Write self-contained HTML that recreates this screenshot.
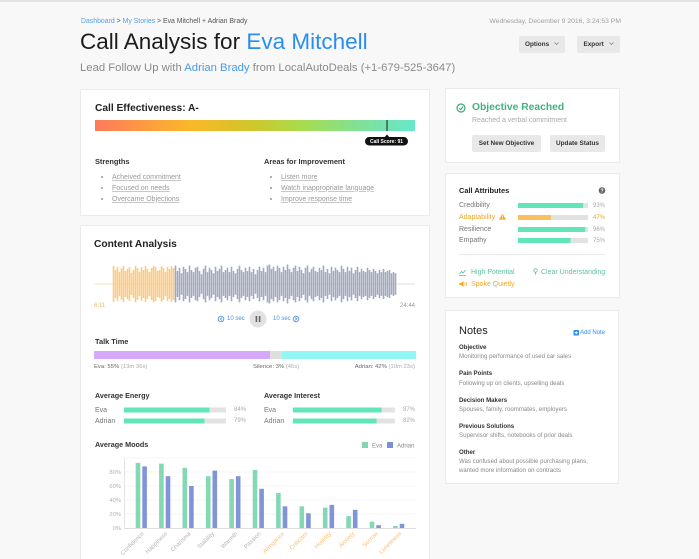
<!DOCTYPE html>
<html><head><meta charset="utf-8">
<style>
*{margin:0;padding:0;box-sizing:border-box}
html,body{width:699px;height:559px;overflow:hidden}
body{background:#f8f8f8;font-family:"Liberation Sans",sans-serif;position:relative;color:#333}
.t{position:absolute;line-height:1;white-space:nowrap}
.card{position:absolute;background:#fff;border:1px solid #ebebeb}
.b{font-weight:bold}
.btn{position:absolute;background:#e8e8e8;border-radius:2px;font-weight:bold;color:#333;text-align:center;white-space:nowrap}
.u{text-decoration:underline;text-decoration-color:#c8c8c8}
.dot{position:absolute;width:2px;height:2px;border-radius:1px;background:#999}
</style></head><body>
<div style="position:absolute;left:0;top:0;width:699px;height:2px;background:#e2e2e2"></div>

<!-- Header -->
<div class="t" style="left:81px;top:18.5px;font-size:6.9px;color:#555"><span style="color:#5aa0e6">Dashboard</span> &gt; <span style="color:#5aa0e6">My Stories</span> &gt; Eva Mitchell + Adrian Brady</div>
<div class="t" style="right:78px;top:18.6px;font-size:6.8px;color:#a0a0a0">Wednesday, December 9 2016, 3:24:53 PM</div>
<div class="t" style="left:80px;top:31px;font-size:22.5px;color:#1c1c1c">Call Analysis for <span style="color:#2a8ef0">Eva Mitchell</span></div>
<div class="t" style="left:80px;top:62.5px;font-size:11.3px;color:#8a8a8a">Lead Follow Up with <span style="color:#4a9ae6">Adrian Brady</span> from LocalAutoDeals (+1-679-525-3647)</div>
<div class="btn" style="left:519px;top:36px;width:46px;height:17px;font-size:6.4px;line-height:17px">Options <svg width="5" height="3" viewBox="0 0 5 3" style="margin-left:3px;vertical-align:1px"><path d="M0.5 0.5L2.5 2.5L4.5 0.5" fill="none" stroke="#888" stroke-width="0.8"/></svg></div>
<div class="btn" style="left:577px;top:36px;width:43px;height:17px;font-size:6.4px;line-height:17px">Export <svg width="5" height="3" viewBox="0 0 5 3" style="margin-left:3px;vertical-align:1px"><path d="M0.5 0.5L2.5 2.5L4.5 0.5" fill="none" stroke="#888" stroke-width="0.8"/></svg></div>

<!-- Cards -->
<div class="card" style="left:80px;top:89px;width:350px;height:127px"></div>
<div class="card" style="left:80px;top:225px;width:350px;height:345px"></div>
<div class="card" style="left:445px;top:88px;width:175px;height:75px"></div>
<div class="card" style="left:445px;top:173px;width:175px;height:125px"></div>
<div class="card" style="left:445px;top:310px;width:174px;height:174px"></div>

<!-- Card 1 text -->
<div class="t b" style="left:95px;top:103.9px;font-size:10.2px;color:#222">Call Effectiveness: A-</div>
<div class="t b" style="left:95px;top:158.3px;font-size:7.4px;color:#333">Strengths</div>
<div class="t b" style="left:264px;top:158.3px;font-size:7.4px;color:#333">Areas for Improvement</div>
<div class="dot" style="left:101px;top:176px"></div>
<div class="dot" style="left:101px;top:187px"></div>
<div class="dot" style="left:101px;top:198px"></div>
<div class="dot" style="left:270px;top:176px"></div>
<div class="dot" style="left:270px;top:187px"></div>
<div class="dot" style="left:270px;top:198px"></div>
<div class="t u" style="left:112px;top:173.5px;font-size:7px;color:#999">Acheived commitment</div>
<div class="t u" style="left:112px;top:184.5px;font-size:7px;color:#999">Focused on needs</div>
<div class="t u" style="left:112px;top:195.5px;font-size:7px;color:#999">Overcame Objections</div>
<div class="t u" style="left:281px;top:173.5px;font-size:7px;color:#999">Listen more</div>
<div class="t u" style="left:281px;top:184.5px;font-size:7px;color:#999">Watch inappropriate language</div>
<div class="t u" style="left:281px;top:195.5px;font-size:7px;color:#999">Improve response time</div>

<!-- Card 2 text -->
<div class="t b" style="left:94px;top:239.9px;font-size:10.2px;color:#222">Content Analysis</div>
<div class="t" style="left:94px;top:303px;font-size:6px;color:#f5b660">6:11</div>
<div class="t" style="right:284px;top:303px;font-size:6px;color:#999">24:44</div>
<div class="t" style="left:227px;top:316px;font-size:6px;color:#4a90e2">10 sec</div>
<div class="t" style="left:273px;top:316px;font-size:6px;color:#4a90e2">10 sec</div>
<div class="t b" style="left:95px;top:338.3px;font-size:7.4px;color:#333">Talk Time</div>
<div class="t" style="left:94px;top:365px;font-size:5.9px;color:#666">Eva: 55% <span style="color:#aaa">(13m 36s)</span></div>
<div class="t" style="left:253px;top:365px;font-size:5.9px;color:#666">Silence: 3% <span style="color:#aaa">(45s)</span></div>
<div class="t" style="right:284px;top:365px;font-size:5.9px;color:#666">Adrian: 42% <span style="color:#aaa">(10m 23s)</span></div>

<div class="t b" style="left:95px;top:392.4px;font-size:7.2px;color:#333">Average Energy</div>
<div class="t b" style="left:264px;top:392.4px;font-size:7.2px;color:#333">Average Interest</div>
<div class="t" style="left:95px;top:406.5px;font-size:7px;color:#777">Eva</div>
<div class="t" style="left:95px;top:417.5px;font-size:7px;color:#777">Adrian</div>
<div class="t" style="left:264px;top:406.5px;font-size:7px;color:#777">Eva</div>
<div class="t" style="left:264px;top:417.5px;font-size:7px;color:#777">Adrian</div>
<div class="t" style="right:453px;top:407px;font-size:6px;color:#aaa">84%</div>
<div class="t" style="right:453px;top:418px;font-size:6px;color:#aaa">79%</div>
<div class="t" style="right:284px;top:407px;font-size:6px;color:#aaa">87%</div>
<div class="t" style="right:284px;top:418px;font-size:6px;color:#aaa">82%</div>
<div class="t b" style="left:95px;top:441.4px;font-size:7.2px;color:#333">Average Moods</div>

<!-- Right card 1 -->
<div class="t b" style="left:472px;top:102.8px;font-size:10.3px;color:#45b27e">Objective Reached</div>
<div class="t" style="left:472px;top:116.5px;font-size:7px;color:#aaa">Reached a verbal commitment</div>
<div class="btn" style="left:472px;top:135px;width:69px;height:17px;font-size:6.4px;line-height:17px">Set New Objective</div>
<div class="btn" style="left:550px;top:135px;width:55px;height:17px;font-size:6.4px;line-height:17px">Update Status</div>

<!-- Right card 2 -->
<div class="t b" style="left:459px;top:187.3px;font-size:7.4px;color:#222">Call Attributes</div>
<div class="t" style="left:459px;top:201.5px;font-size:7px;color:#777">Credibility</div>
<div class="t" style="left:459px;top:213.5px;font-size:7px;color:#f5a623">Adaptability</div>
<div class="t" style="left:459px;top:225.5px;font-size:7px;color:#777">Resilience</div>
<div class="t" style="left:459px;top:236.5px;font-size:7px;color:#777">Empathy</div>
<div class="t" style="right:94px;top:202.5px;font-size:6px;color:#aaa">93%</div>
<div class="t" style="right:94px;top:214.5px;font-size:6px;color:#f5a623">47%</div>
<div class="t" style="right:94px;top:226.5px;font-size:6px;color:#aaa">96%</div>
<div class="t" style="right:94px;top:237.5px;font-size:6px;color:#aaa">75%</div>
<div class="t" style="left:471px;top:268.5px;font-size:7px;color:#5cc39f">High Potential</div>
<div class="t" style="left:541px;top:268.5px;font-size:7px;color:#5cc39f">Clear Understanding</div>
<div class="t" style="left:471px;top:280.5px;font-size:7px;color:#f5a623">Spoke Quietly</div>

<!-- Notes -->
<div class="t" style="left:459px;top:325.5px;font-size:11px;color:#222">Notes</div>
<div class="t" style="left:580px;top:330px;font-size:6px;color:#2b8fe6">Add Note</div>
<div class="t b" style="left:459px;top:345px;font-size:6.1px;color:#333">Objective</div>
<div class="t" style="left:459px;top:354px;font-size:6.1px;color:#888">Monitoring performance of used car sales</div>
<div class="t b" style="left:459px;top:371px;font-size:6.1px;color:#333">Pain Points</div>
<div class="t" style="left:459px;top:381px;font-size:6.1px;color:#888">Following up on clients, upselling deals</div>
<div class="t b" style="left:459px;top:398px;font-size:6.1px;color:#333">Decision Makers</div>
<div class="t" style="left:459px;top:407px;font-size:6.1px;color:#888">Spouses, family, roommates, employers</div>
<div class="t b" style="left:459px;top:424px;font-size:6.1px;color:#333">Previous Solutions</div>
<div class="t" style="left:459px;top:433px;font-size:6.1px;color:#888">Supervisor shifts, notebooks of prior deals</div>
<div class="t b" style="left:459px;top:450px;font-size:6.1px;color:#333">Other</div>
<div class="t" style="left:459px;top:459px;font-size:6.1px;color:#888">Was confused about possible purchasing plans,</div>
<div class="t" style="left:459px;top:468px;font-size:6.1px;color:#888">wanted more information on contracts</div>

<!-- Graphics -->
<svg width="699" height="559" viewBox="0 0 699 559" style="position:absolute;left:0;top:0" font-family="Liberation Sans, sans-serif">
<defs>
<linearGradient id="g" x1="0" x2="1" y1="0" y2="0">
<stop offset="0" stop-color="#ff7a5c"/>
<stop offset="0.17" stop-color="#fd9e3e"/>
<stop offset="0.3" stop-color="#fbb828"/>
<stop offset="0.48" stop-color="#d3c42b"/>
<stop offset="0.64" stop-color="#a8dc4a"/>
<stop offset="0.8" stop-color="#86e08c"/>
<stop offset="0.91" stop-color="#72e3b2"/>
<stop offset="1" stop-color="#67e8c9"/>
</linearGradient>
</defs>
<!-- effectiveness bar -->
<rect x="95" y="120" width="320" height="11" fill="url(#g)"/>
<rect x="386.3" y="120" width="1.5" height="11" fill="#45574c"/>
<path d="M384.5 137.2L387 134.5L389.5 137.2Z" fill="#111"/>
<rect x="365" y="137" width="43" height="8.5" rx="4.25" fill="#111"/>
<text x="386.5" y="143" font-size="5" font-weight="bold" fill="#fff" text-anchor="middle">Call Score: 91</text>

<!-- waveform -->
<line x1="94" y1="284" x2="415" y2="284" stroke="#dcdfe7" stroke-width="1"/>
<line x1="94" y1="284" x2="174" y2="284" stroke="#fde2b6" stroke-width="1"/>
<path stroke="#fcca80" stroke-width="1.6" fill="none" d="M113.5 266v36M115.5 270v28M117.5 267v34M119.5 272v24M121.5 268v32M123.5 266v36M125.5 271v26M127.5 269v30M129.5 267v34M131.5 273v22M133.5 270v28M135.5 266v36M137.5 268v32M139.5 272v24M141.5 267v34M143.5 270v28M145.5 266v36M147.5 269v30M149.5 272v24M151.5 268v32M153.5 266v36M155.5 267v34M157.5 271v26M159.5 270v28M161.5 266v36M163.5 268v32M165.5 272v24M167.5 267v34M169.5 269v30M171.5 266v36M173.5 268v32"/>
<g transform="translate(0 284) scale(1 1.08) translate(0 -284)">
<path stroke="#a2a9bf" stroke-width="1.6" fill="none" d="M175.5 267v34M177.5 272v24M179.5 269v30M181.5 274v20M183.5 268v32M185.5 270v28M187.5 273v22M189.5 267v34M191.5 271v26M193.5 273v22M195.5 269v30M197.5 268v32M199.5 272v24M201.5 275v18M203.5 270v28M205.5 267v34M207.5 273v22M209.5 269v30M211.5 271v26M213.5 274v20M215.5 268v32M217.5 272v24M219.5 270v28M221.5 267v34M223.5 273v22M225.5 271v26M227.5 269v30M229.5 273v22M231.5 268v32M233.5 272v24M235.5 274v20M237.5 270v28M239.5 267v34M241.5 271v26M243.5 273v22M245.5 269v30M247.5 272v24M249.5 268v32M251.5 273v22M253.5 270v28M255.5 275v18M257.5 271v26M259.5 268v32M261.5 272v24M263.5 269v30M265.5 273v22M267.5 267v34M269.5 266v36M271.5 270v28M273.5 268v32M275.5 272v24M277.5 267v34M279.5 269v30M281.5 273v22M283.5 268v32M285.5 271v26M287.5 266v36M289.5 270v28M291.5 273v22M293.5 269v30M295.5 267v34M297.5 272v24M299.5 268v32M301.5 271v26M303.5 274v20M305.5 269v30M307.5 267v34M309.5 273v22M311.5 270v28M313.5 268v32M315.5 272v24M317.5 273v22M319.5 269v30M321.5 271v26M323.5 267v34M325.5 273v22M327.5 270v28M329.5 274v20M331.5 268v32M333.5 272v24M335.5 269v30M337.5 271v26M339.5 273v22M341.5 267v34M343.5 270v28M345.5 273v22M347.5 268v32M349.5 272v24M351.5 269v30M353.5 274v20M355.5 271v26M357.5 268v32M359.5 273v22M361.5 270v28M363.5 272v24M365.5 273v22M367.5 269v30M369.5 271v26M371.5 273v22M373.5 270v28M375.5 272v24M377.5 274v20M379.5 271v26M381.5 273v22M383.5 270v28M385.5 273v22M387.5 272v24M389.5 271v26M391.5 274v20M393.5 273v22M395.5 274v20"/>
</g>

<!-- controls -->
<circle cx="221" cy="319" r="2.8" fill="none" stroke="#4a90e2" stroke-width="0.9"/>
<path d="M222 317.6L220.3 319L222 320.4" fill="none" stroke="#4a90e2" stroke-width="0.8"/>
<circle cx="258" cy="319" r="8.5" fill="#e2e2e2"/>
<rect x="255.6" y="316" width="1.6" height="6" fill="#666"/>
<rect x="258.8" y="316" width="1.6" height="6" fill="#666"/>
<circle cx="296" cy="319" r="2.8" fill="none" stroke="#4a90e2" stroke-width="0.9"/>
<path d="M295 317.6L296.7 319L295 320.4" fill="none" stroke="#4a90e2" stroke-width="0.8"/>

<!-- talk time -->
<rect x="94" y="351" width="176" height="8" fill="#d4a8fa"/>
<rect x="270" y="351" width="12" height="8" fill="#dedede"/>
<rect x="282" y="351" width="134" height="8" fill="#92f6f3"/>

<!-- energy / interest -->
<rect x="124" y="407.5" width="102" height="5" fill="#e3e3e3"/>
<rect x="124" y="407.5" width="85.5" height="5" fill="#62e6b9"/>
<rect x="124" y="418.5" width="102" height="5" fill="#e3e3e3"/>
<rect x="124" y="418.5" width="80.5" height="5" fill="#62e6b9"/>
<rect x="293" y="407.5" width="102" height="5" fill="#e3e3e3"/>
<rect x="293" y="407.5" width="88.7" height="5" fill="#62e6b9"/>
<rect x="293" y="418.5" width="102" height="5" fill="#e3e3e3"/>
<rect x="293" y="418.5" width="83.6" height="5" fill="#62e6b9"/>

<!-- legend -->
<rect x="362" y="442" width="6" height="6" fill="#7fd6b0"/>
<text x="372" y="447.3" font-size="6" fill="#888">Eva</text>
<rect x="387" y="442" width="6" height="6" fill="#7b8fd6"/>
<text x="397" y="447.3" font-size="6" fill="#888">Adrian</text>

<!-- chart grid -->
<g stroke="#f1f1f1" stroke-width="0.8">
<line x1="124" y1="458" x2="416" y2="458"/>
<line x1="124" y1="472" x2="416" y2="472"/>
<line x1="124" y1="486" x2="416" y2="486"/>
<line x1="124" y1="500" x2="416" y2="500"/>
<line x1="124" y1="514" x2="416" y2="514"/>
</g>
<line x1="124" y1="528.5" x2="416" y2="528.5" stroke="#dedede" stroke-width="1"/>
<line x1="124.5" y1="458" x2="124.5" y2="529" stroke="#e4e4e4" stroke-width="1"/>
<g font-size="5.8" fill="#b0b0b0" text-anchor="end">
<text x="121" y="474">80%</text>
<text x="121" y="488">60%</text>
<text x="121" y="502">40%</text>
<text x="121" y="516">20%</text>
<text x="121" y="530">0%</text>
</g>
<!-- bars -->
<g fill="#84d8b3">
<rect x="135.7" y="462.9" width="4.6" height="65.1"/>
<rect x="159.1" y="463.6" width="4.6" height="64.4"/>
<rect x="182.5" y="467.8" width="4.6" height="60.2"/>
<rect x="205.9" y="476.2" width="4.6" height="51.8"/>
<rect x="229.3" y="479" width="4.6" height="49"/>
<rect x="252.7" y="469.9" width="4.6" height="58.1"/>
<rect x="276.1" y="493" width="4.6" height="35"/>
<rect x="299.5" y="506.3" width="4.6" height="21.7"/>
<rect x="322.9" y="507.7" width="4.6" height="20.3"/>
<rect x="346.3" y="516.1" width="4.6" height="11.9"/>
<rect x="369.7" y="521.7" width="4.6" height="6.3"/>
<rect x="393.1" y="525.9" width="4.6" height="2.1"/>
</g>
<g fill="#8094d7">
<rect x="142.3" y="466.4" width="4.6" height="61.6"/>
<rect x="165.7" y="476.2" width="4.6" height="51.8"/>
<rect x="189.1" y="486" width="4.6" height="42"/>
<rect x="212.5" y="470.6" width="4.6" height="57.4"/>
<rect x="235.9" y="476.2" width="4.6" height="51.8"/>
<rect x="259.3" y="488.8" width="4.6" height="39.2"/>
<rect x="282.7" y="506.3" width="4.6" height="21.7"/>
<rect x="306.1" y="513.3" width="4.6" height="14.7"/>
<rect x="329.5" y="504.9" width="4.6" height="23.1"/>
<rect x="352.9" y="509.8" width="4.6" height="18.2"/>
<rect x="376.3" y="525.2" width="4.6" height="2.8"/>
<rect x="399.7" y="523.8" width="4.6" height="4.2"/>
</g>
<g font-size="6" text-anchor="end">
<text fill="#b5b5b5" x="144.3" y="534" transform="rotate(-45 144.3 534)">Confidence</text>
<text fill="#b5b5b5" x="167.7" y="534" transform="rotate(-45 167.7 534)">Happiness</text>
<text fill="#b5b5b5" x="191.1" y="534" transform="rotate(-45 191.1 534)">Charisma</text>
<text fill="#b5b5b5" x="214.5" y="534" transform="rotate(-45 214.5 534)">Stability</text>
<text fill="#b5b5b5" x="237.9" y="534" transform="rotate(-45 237.9 534)">Warmth</text>
<text fill="#b5b5b5" x="261.3" y="534" transform="rotate(-45 261.3 534)">Passion</text>
<text fill="#f8bd75" x="284.7" y="534" transform="rotate(-45 284.7 534)">Arrogance</text>
<text fill="#f8bd75" x="308.1" y="534" transform="rotate(-45 308.1 534)">Criticism</text>
<text fill="#f8bd75" x="331.5" y="534" transform="rotate(-45 331.5 534)">Hostility</text>
<text fill="#f8bd75" x="354.9" y="534" transform="rotate(-45 354.9 534)">Anxiety</text>
<text fill="#f8bd75" x="378.3" y="534" transform="rotate(-45 378.3 534)">Sorrow</text>
<text fill="#f8bd75" x="401.7" y="534" transform="rotate(-45 401.7 534)">Loneliness</text>
</g>

<!-- objective icon -->
<circle cx="461" cy="108" r="4" fill="none" stroke="#3aa876" stroke-width="1.2"/>
<path d="M459 108.1L460.6 109.6L463.2 106.6" fill="none" stroke="#3aa876" stroke-width="1.1"/>

<!-- call attributes -->
<circle cx="602" cy="190.5" r="3.3" fill="#666"/>
<text x="602" y="192.5" font-size="5" font-weight="bold" fill="#fff" text-anchor="middle">?</text>
<rect x="518" y="203" width="70" height="5" fill="#e2e2e2"/>
<rect x="518" y="203" width="65.1" height="5" fill="#62e6b9"/>
<rect x="518" y="215" width="70" height="5" fill="#e2e2e2"/>
<rect x="518" y="215" width="32.9" height="5" fill="#fcc05a"/>
<rect x="518" y="227" width="70" height="5" fill="#e2e2e2"/>
<rect x="518" y="227" width="67.2" height="5" fill="#62e6b9"/>
<rect x="518" y="238" width="70" height="5" fill="#e2e2e2"/>
<rect x="518" y="238" width="52.5" height="5" fill="#62e6b9"/>
<path d="M502.5 213.8L506 219.6H499Z" fill="#f5a623"/>
<rect x="502.1" y="215.5" width="0.8" height="2" fill="#fff"/>
<rect x="502.1" y="218.2" width="0.8" height="0.7" fill="#fff"/>
<line x1="459" y1="254.5" x2="605" y2="254.5" stroke="#e8e8e8" stroke-width="1"/>
<!-- attribute icons -->
<path d="M459 275.5H466M459.5 274L461.5 271.5L463 273L465.5 270" fill="none" stroke="#5cc39f" stroke-width="0.8"/>
<circle cx="535.5" cy="270.5" r="1.8" fill="none" stroke="#5cc39f" stroke-width="0.8"/>
<path d="M535.5 272.3V274.6" stroke="#5cc39f" stroke-width="0.9"/>
<path d="M459.5 283H461L463.5 281V287L461 285H459.5Z" fill="#f5a623"/>
<path d="M464.6 282.5Q465.6 284 464.6 285.5M465.8 281.8Q467.3 284 465.8 286.2" fill="none" stroke="#f5a623" stroke-width="0.6"/>

<!-- add note icon -->
<rect x="573.5" y="330" width="5.5" height="5.5" rx="0.8" fill="#2b8fe6"/>
<path d="M576.25 331.2V334.3M574.7 332.75H577.8" stroke="#fff" stroke-width="0.9"/>
</svg>
</body></html>
